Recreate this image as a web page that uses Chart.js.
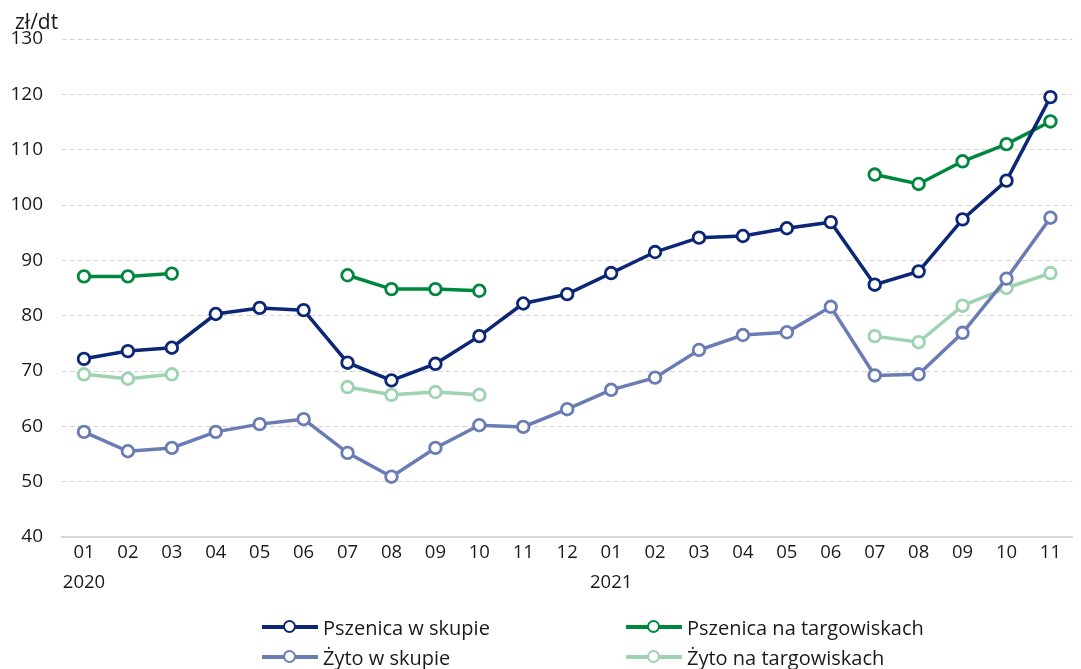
<!DOCTYPE html>
<html>
<head>
<meta charset="utf-8">
<script src="https://cdn.jsdelivr.net/npm/chart.js@4/dist/chart.umd.min.js"></script>
<style>
    html, body { margin: 0; padding: 0; background: #fff; }
    #wrap { position: relative; width: 1081px; height: 669px; }
    #legend {
        position: absolute; left: 0; top: 612px; width: 1081px;
        font-family: 'Open Sans', sans-serif; font-size: 20px; color: #1a1a1a;
    }
    .item { position: absolute; display: flex; align-items: center; height: 30px; white-space: nowrap; }
    .mark { position: relative; width: 56px; height: 3.5px; margin-right: 5px; }
    .mark span {
        position: absolute; left: 21px; top: -5.5px; width: 9px; height: 9px;
        border-radius: 50%; background: #fff; border: 2.8px solid;
    }
</style>
</head>
<body>
<div id="wrap">
    <canvas id="chart" width="1081" height="669"></canvas>
    <div id="legend"></div>
</div>
<script>
// Months Jan 2020 - Nov 2021
const months = ['01', '02', '03', '04', '05', '06', '07', '08', '09', '10', '11', '12',
                '01', '02', '03', '04', '05', '06', '07', '08', '09', '10', '11'];
const years = { 0: '2020', 12: '2021' };

// Prices, zł/dt
const pszenicaSkup = [72.2, 73.6, 74.2, 80.3, 81.4, 81.0, 71.5, 68.3, 71.3, 76.3, 82.2, 83.9,
                      87.7, 91.5, 94.1, 94.4, 95.8, 96.9, 85.6, 88.0, 97.4, 104.4, 119.5];
const pszenicaTarg = [87.1, 87.1, 87.6, null, null, null, 87.3, 84.8, 84.8, 84.5, null, null,
                      null, null, null, null, null, null, 105.5, 103.8, 107.9, 111.0, 115.1];
const zytoSkup = [59.0, 55.5, 56.1, 59.0, 60.4, 61.3, 55.2, 50.9, 56.1, 60.2, 59.9, 63.1,
                  66.6, 68.8, 73.8, 76.5, 77.0, 81.6, 69.2, 69.4, 76.9, 86.7, 97.7];
const zytoTarg = [69.4, 68.6, 69.4, null, null, null, 67.1, 65.7, 66.2, 65.7, null, null,
                  null, null, null, null, null, null, 76.3, 75.2, 81.8, 85.0, 87.7];

const yTicks = { min: 40, max: 130, step: 10 };

const fontFamily = "'Open Sans', sans-serif";

const series = [
    { label: 'Pszenica w skupie', data: pszenicaSkup, color: '#0c2776', left: 262, row: 0 },
    { label: 'Pszenica na targowiskach', data: pszenicaTarg, color: '#00873e', left: 626, row: 0 },
    { label: 'Żyto w skupie', data: zytoSkup, color: '#6a7cb4', left: 262, row: 1 },
    { label: 'Żyto na targowiskach', data: zytoTarg, color: '#9dd3b1', left: 626, row: 1 }
];

const labels = months.map((m, i) => years[i] ? [m, years[i]] : m);

// Unit label above the y axis
const unitLabel = {
    id: 'unitLabel',
    afterDraw(chart) {
        const ctx = chart.ctx;
        ctx.save();
        ctx.font = '21px ' + fontFamily;
        ctx.fillStyle = '#1a1a1a';
        ctx.textAlign = 'left';
        ctx.textBaseline = 'middle';
        ctx.fillText('zł/dt', 15, 23);
        ctx.restore();
    }
};

new Chart(document.getElementById('chart'), {
    type: 'line',
    data: {
        labels: labels,
        datasets: series.map(s => ({
            label: s.label,
            data: s.data,
            borderColor: s.color,
            backgroundColor: '#ffffff',
            pointBackgroundColor: '#ffffff',
            pointBorderColor: s.color,
            pointRadius: 5.8,
            pointBorderWidth: 2.8,
            borderWidth: 3.5,
            tension: 0,
            spanGaps: false
        }))
    },
    options: {
        responsive: false,
        animation: false,
        layout: { padding: { top: 39, right: 4, bottom: 72, left: 0 } },
        plugins: {
            legend: { display: false },
            tooltip: { enabled: false }
        },
        scales: {
            x: {
                offset: true,
                grid: { display: false, drawTicks: false },
                border: { display: true, color: '#d9d9d9', width: 2 },
                ticks: {
                    padding: 1,
                    maxRotation: 0,
                    autoSkip: false,
                    color: '#1a1a1a',
                    font: { family: fontFamily, size: 18.5, lineHeight: 1.6 }
                },
                afterFit: (scale) => { scale.height = 60; }
            },
            y: {
                min: yTicks.min,
                max: yTicks.max,
                grid: { color: '#d4d4d4', lineWidth: 1, drawTicks: false },
                border: { display: false, dash: [5, 3] },
                ticks: {
                    stepSize: yTicks.step,
                    padding: 19,
                    color: '#1a1a1a',
                    font: { family: fontFamily, size: 19 }
                },
                afterFit: (scale) => { scale.width = 62; }
            }
        }
    },
    plugins: [unitLabel]
});

// Two-column legend below the chart
const legend = document.getElementById('legend');
series.forEach(s => {
    const item = document.createElement('div');
    item.className = 'item';
    item.style.left = s.left + 'px';
    item.style.top = (s.row * 30) + 'px';
    item.innerHTML = `<div class="mark" style="background:${s.color}"><span style="border-color:${s.color}"></span></div>${s.label}`;
    legend.appendChild(item);
});
</script>
</body>
</html>
